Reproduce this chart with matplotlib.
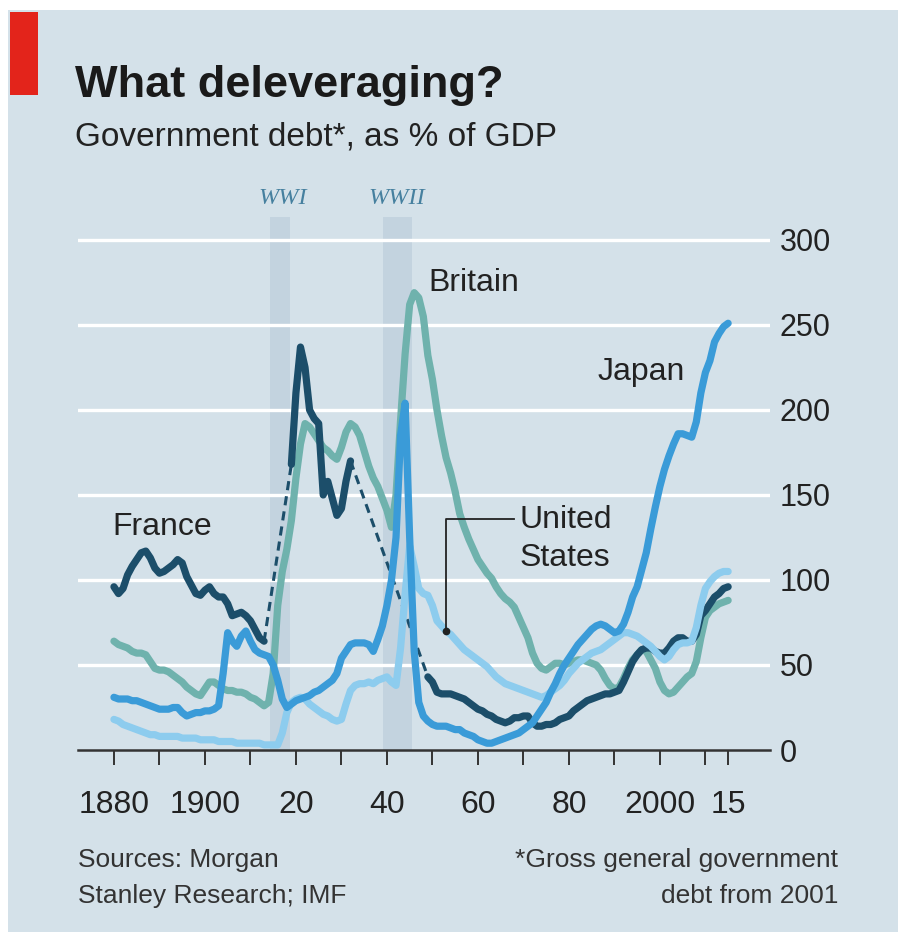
import matplotlib
matplotlib.use("Agg")
import matplotlib.pyplot as plt
from matplotlib.patches import Rectangle

W, H = 898, 932

# --- data, government debt as % of GDP ---
years = list(range(1880, 2016))

britain = [
    64, 62, 61, 60, 58, 57, 57, 56, 52, 48,
    47, 47, 46, 44, 42, 40, 37, 35, 33, 32,
    36, 40, 40, 38, 36, 35, 35, 34, 34, 33,
    31, 30, 28, 26, 28, 45, 85, 105, 118, 135,
    160, 180, 192, 190, 186, 182, 178, 176, 173, 171,
    178, 187, 192, 190, 185, 176, 167, 160, 155, 148,
    141, 131, 150, 194, 233, 262, 269, 266, 255, 232,
    218, 200, 185, 172, 163, 152, 139, 131, 124, 118,
    112, 108, 104, 101, 96, 92, 89, 87, 84, 78,
    72, 66, 57, 51, 48, 47, 49, 51, 51, 50,
    51, 52, 53, 53, 52, 51, 50, 47, 42, 38,
    36, 37, 42, 48, 53, 56, 59, 58, 53, 48,
    40, 35, 33, 34, 37, 40, 43, 45, 52, 66,
    78, 82, 84, 86, 87, 88,
]

japan = [
    31, 30, 30, 30, 29, 29, 28, 27, 26, 25,
    24, 24, 24, 25, 25, 22, 20, 21, 22, 22,
    23, 23, 24, 26, 45, 69, 64, 61, 67, 70,
    64, 59, 57, 56, 55, 50, 41, 30, 25, 27,
    29, 30, 31, 32, 34, 35, 37, 39, 41, 45,
    54, 58, 62, 63, 63, 63, 62, 58, 65, 73,
    85, 100, 125, 185, 204, 125, 58, 28, 20, 17,
    15, 14, 14, 14, 13, 12, 12, 10, 9, 8,
    6, 5, 4, 4, 5, 6, 7, 8, 9, 10,
    12, 14, 16, 20, 24, 28, 34, 39, 45, 50,
    54, 58, 62, 65, 68, 71, 73, 74, 73, 71,
    69, 70, 74, 81, 90, 96, 106, 116, 130, 143,
    155, 165, 173, 180, 186, 186, 185, 184, 193, 210,
    222, 229, 240, 245, 249, 251,
]

united_states = [
    18, 17, 15, 14, 13, 12, 11, 10, 9, 9,
    8, 8, 8, 8, 8, 7, 7, 7, 7, 6,
    6, 6, 6, 5, 5, 5, 5, 4, 4, 4,
    4, 4, 4, 3, 3, 3, 3, 10, 22, 28,
    30, 31, 30, 27, 25, 23, 21, 20, 18, 17,
    18, 27, 35, 38, 39, 39, 40, 39, 41, 42,
    43, 40, 38, 60, 92, 120, 108, 95, 92, 91,
    85, 76, 73, 70, 68, 65, 62, 59, 57, 55,
    53, 51, 49, 46, 43, 41, 39, 38, 37, 36,
    35, 34, 33, 32, 31, 32, 34, 36, 38, 41,
    45, 48, 51, 53, 55, 57, 58, 59, 61, 63,
    65, 67, 69, 69, 68, 67, 65, 63, 61, 58,
    55, 53, 55, 59, 62, 63, 63, 64, 72, 85,
    95, 99, 102, 104, 105, 105,
]

# France has gaps around the wars (bridged with a dashed line)
france_years_a = list(range(1880, 1914))
france_a = [
    96, 92, 95, 103, 108, 112, 116, 117, 113, 107,
    104, 105, 107, 109, 112, 110, 102, 97, 92, 91,
    94, 96, 92, 90, 90, 86, 79, 80, 81, 79,
    76, 71, 66, 64,
]
france_years_b = list(range(1919, 1933))
france_b = [168, 210, 237, 225, 200, 195, 192, 150, 158, 148, 138, 142, 158, 170]
france_years_c = list(range(1949, 2016))
france_c = [
    43, 40, 34, 33, 33, 33, 32, 31, 30, 28,
    26, 24, 23, 21, 20, 18, 17, 16, 17, 19,
    19, 20, 20, 16, 14, 14, 15, 15, 16, 18,
    19, 20, 23, 25, 27, 29, 30, 31, 32, 33,
    33, 34, 35, 40, 46, 52, 56, 59, 60, 60,
    58, 57, 57, 60, 64, 66, 66, 64, 64, 68,
    79, 82, 86, 90, 92, 95, 96,
]

wars = [("WWI", 1914.4, 1918.6), ("WWII", 1939.05, 1945.6)]
ytick_values = [0, 50, 100, 150, 200, 250, 300]
xtick_years = [1880, 1900, 1920, 1940, 1960, 1980, 2000, 2015]
xtick_labels = ["1880", "1900", "20", "40", "60", "80", "2000", "15"]
xminor_years = [1890, 1910, 1930, 1950, 1970, 1990, 2010]

BG = "#d4e1e9"
BAND = "#c3d3df"
NAVY = "#1c4e6a"
TEAL = "#6fb2ad"
MIDBLUE = "#3a9bd8"
LIGHTBLUE = "#8dccee"
TEXT = "#222222"


def fx(px):
    return px / W


def fy(py):
    return 1 - py / H


def draw_chart(fig):
    ax = fig.add_axes([fx(78), fy(750), (770 - 78) / W, (750 - 217) / H])
    ax.set_facecolor("none")
    ax.set_xlim(1872.1, 2024.2)
    ax.set_ylim(0, 313.5)

    for name, start, end in wars:
        ax.axvspan(start, end, color=BAND, lw=0, zorder=0)

    for v in ytick_values[1:]:
        ax.axhline(v, color="white", lw=2.4, zorder=1)

    style = dict(lw=5.2, solid_joinstyle="round", solid_capstyle="round")
    ax.plot(years, britain, color=TEAL, zorder=3, **style)
    ax.plot(france_years_a, france_a, color=NAVY, zorder=4, **style)
    ax.plot(france_years_b, france_b, color=NAVY, zorder=4, **style)
    ax.plot(france_years_c, france_c, color=NAVY, zorder=4, **style)
    # dashed bridges over the missing French years
    ax.plot([france_years_a[-1], france_years_b[0]], [france_a[-1], france_b[0]],
            color=NAVY, lw=2.2, ls=(0, (3, 2)), zorder=4)
    ax.plot([france_years_b[-1], france_years_c[0]], [france_b[-1], france_c[0]],
            color=NAVY, lw=2.2, ls=(0, (3, 2)), zorder=4)
    ax.plot(years, united_states, color=LIGHTBLUE, zorder=5, **style)
    ax.plot(years, japan, color=MIDBLUE, zorder=6, **style)

    # United States pointer
    us_year = 1953
    us_val = united_states[years.index(us_year)]
    ax.plot([us_year, us_year, 1968], [us_val, 136, 136], color=TEXT, lw=1.3, zorder=7)
    ax.plot([us_year], [us_val], "o", color=TEXT, ms=4.5, zorder=7)

    for s in ["top", "left", "right"]:
        ax.spines[s].set_visible(False)
    ax.spines["bottom"].set_color("#333333")
    ax.spines["bottom"].set_linewidth(1.8)
    ax.spines["bottom"].set_zorder(8)

    ax.set_xticks(xtick_years)
    ax.set_xticklabels(xtick_labels)
    ax.set_xticks(xminor_years, minor=True)
    ax.tick_params(axis="x", which="both", length=11, width=1.4, color="#333333",
                   direction="out", pad=18, labelsize=23, labelcolor=TEXT)

    ax.yaxis.tick_right()
    ax.set_yticks(ytick_values)
    ax.tick_params(axis="y", length=0, pad=7, labelsize=22, labelcolor=TEXT)
    return ax


def draw_text(fig):
    # background panel and red tag
    fig.patches.append(Rectangle((fx(8), 0), 1 - fx(8), fy(10), transform=fig.transFigure,
                                 facecolor=BG, edgecolor="none", zorder=-10))
    fig.patches.append(Rectangle((fx(10), fy(95)), fx(38) - fx(10), fy(12) - fy(95),
                                 transform=fig.transFigure, facecolor="#e3241b",
                                 edgecolor="none", zorder=-9))

    fig.text(fx(75), fy(97), "What deleveraging?", fontsize=32.5, fontweight="bold",
             color="#1a1a1a", va="baseline")
    fig.text(fx(75), fy(146), "Government debt*, as % of GDP", fontsize=24,
             color=TEXT, va="baseline")

    for name, x in [("WWI", 283), ("WWII", 397)]:
        fig.text(fx(x), fy(199), name, fontsize=17.5, style="italic", color="#46809f",
                 family="Liberation Serif", ha="center", va="center")

    fig.text(fx(112), fy(527), "France", fontsize=23, color=TEXT, va="center")
    fig.text(fx(428), fy(283), "Britain", fontsize=23, color=TEXT, va="center")
    fig.text(fx(598), fy(372), "Japan", fontsize=23, color=TEXT, va="center")
    fig.text(fx(520), fy(520), "United", fontsize=23, color=TEXT, va="center")
    fig.text(fx(520), fy(558), "States", fontsize=23, color=TEXT, va="center")

    fig.text(fx(78), fy(860), "Sources: Morgan", fontsize=19, color="#333333", va="center")
    fig.text(fx(78), fy(896), "Stanley Research; IMF", fontsize=19, color="#333333", va="center")
    fig.text(fx(838), fy(860), "*Gross general government", fontsize=19, color="#333333",
             va="center", ha="right")
    fig.text(fx(838), fy(896), "debt from 2001", fontsize=19, color="#333333",
             va="center", ha="right")


plt.rcParams["font.family"] = ["Liberation Sans", "DejaVu Sans"]

fig = plt.figure(figsize=(W / 100, H / 100), dpi=100, facecolor="white")
draw_text(fig)
draw_chart(fig)
fig.savefig("out.png", dpi=100, facecolor=fig.get_facecolor())
